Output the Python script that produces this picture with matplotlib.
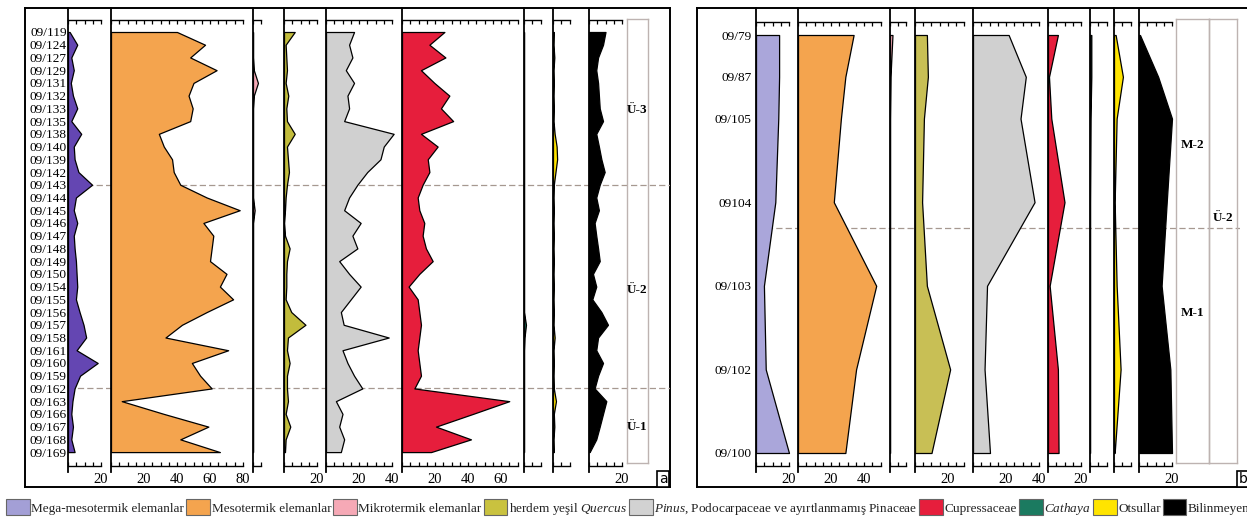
import numpy as np
import matplotlib
matplotlib.use("Agg")
import matplotlib.pyplot as plt
from matplotlib.patches import Patch

plt.rcParams['font.family'] = ['Liberation Serif', 'DejaVu Serif']
plt.rcParams['mathtext.fontset'] = 'custom'
plt.rcParams['mathtext.rm'] = 'Liberation Serif'
plt.rcParams['mathtext.it'] = 'Liberation Serif:italic'

# ---------------- Panel a data ----------------
samples_a = ["09/119", "09/124", "09/127", "09/129", "09/131", "09/132", "09/133", "09/135",
             "09/138", "09/140", "09/139", "09/142", "09/143", "09/144", "09/145", "09/146",
             "09/147", "09/148", "09/149", "09/150", "09/154", "09/155", "09/156", "09/157",
             "09/158", "09/161", "09/160", "09/159", "09/162", "09/163", "09/166", "09/167",
             "09/168", "09/169"]
mega_a = [1, 5.6, 2, 3.5, 1.7, 3, 5.6, 2, 8, 3.5, 4, 6.3, 14.6, 4.8, 3.5, 5.6, 3.5,
          4, 4.8, 5.2, 5.6, 4.8, 7, 9.4, 11, 5.2, 18, 7.3, 4, 2.7, 2, 3, 2, 4]
meso_a = [40, 57, 48, 64, 50, 47, 49.5, 48, 29, 32, 37, 38, 42, 58, 78, 56, 62,
          61, 60, 70, 66, 74, 58, 43, 33, 71, 49, 54, 61, 6.5, 32, 59, 42, 66]
mikro_a = [0, 0, 0, 0.5, 3, 0.5, 0, 0, 0, 0, 0, 0, 0, 0, 1, 0, 0,
           0, 0, 0, 0, 0, 0, 0, 0, 0, 0, 0, 0, 0, 0, 0, 0, 0]
quercus_a = [6.5, 1, 1.4, 1.8, 1, 2.6, 1.4, 1.8, 6.5, 1.8, 2.4, 3, 1.8, 1, 0.6, 0, 0.6,
             3.4, 1.8, 1.4, 1.4, 1, 4.4, 13, 2.4, 1.8, 3.4, 1.8, 1.8, 2.4, 1, 3.8, 1, 0.6]
pinus_a = [17, 14, 16, 12, 17, 13, 14, 11, 41, 35, 33, 25, 19, 14, 11, 21, 16,
           19, 8, 14, 21, 15, 9, 10.7, 38, 10, 13, 17, 22, 6, 10, 8, 11, 9]
cupress_a = [25.7, 16.6, 26.3, 11.5, 19.6, 28.7, 23.6, 31, 11.5, 21.6, 15.6, 16.6, 12.5, 9.5, 10.5, 13.5, 12.5,
             14.5, 18.6, 10.5, 4, 9.5, 10.5, 11.5, 10.5, 9.5, 10.5, 11.5, 7.5, 65, 43, 20.6, 41.8, 17.6]
cathaya_a = [0, 0, 0, 0, 0, 0, 0, 0, 0, 0, 0, 0, 0, 0, 0, 0, 0,
             0, 0, 0, 0, 0, 0, 1.2, 0.3, 0, 0, 0, 0, 0, 0, 0, 0, 0]
otsullar_a = [0.5, 0.3, 0.8, 0.3, 0.5, 0.3, 0.5, 0.3, 1.0, 2.2, 2.5, 1.5, 0.5, 0.3, 0.5, 0.3, 0.5,
              0.3, 0.5, 0.3, 0.5, 0.3, 0.5, 0.3, 1.0, 0.3, 0.5, 0.3, 0.5, 1.8, 0.5, 0.8, 0.3, 0.5]
bilin_a = [10, 8.5, 5.5, 4.4, 5.5, 6, 6.5, 8.5, 4.4, 6, 7.5, 9.5, 6.5, 4.4, 6, 3.4, 4.4,
           5.5, 6.5, 2.4, 4.4, 2, 7.5, 11.5, 5.5, 4.4, 8.5, 5.5, 3.4, 10.5, 8.5, 6.5, 4.4, 0.4]
zone_bounds_a = [12, 28]
zone_names_a = ["Ü-3", "Ü-2", "Ü-1"]
zone_label_pos_a = [6.1, 20.3, 31.0]

# ---------------- Panel b data ----------------
samples_b = ["09/79", "09/87", "09/105", "09104", "09/103", "09/102", "09/100"]
depth_b = [0, 1, 2, 4, 6, 8, 10]
mega_b = [14, 14, 13.5, 11.7, 4.8, 5.9, 20]
meso_b = [33.7, 28.7, 26, 21.7, 47.4, 35.2, 28.7]
mikro_b = [1.5, 0.3, 0, 0, 0, 0, 0]
quercus_b = [7.2, 7.8, 5.4, 4.3, 7.2, 21.3, 10]
pinus_b = [21.6, 32, 28.8, 37.3, 8.5, 7, 10.3]
cupress_b = [6, 0.6, 2, 10, 1, 6, 6.4]
cathaya_b = [0.8, 0.8, 0.3, 0, 0, 0, 0]
otsullar_b = [1, 5.4, 1.6, 0.4, 1.6, 4, 0.4]
bilin_b = [0.6, 11.6, 20, 16.8, 13.7, 19, 20]
zone_bounds_b = [4.62]
zone_names_b1 = ["M-2", "M-1"]
zone_label_pos_b1 = [2.63, 6.65]
zone_names_b2 = ["Ü-2"]
zone_label_pos_b2 = [4.38]

# ---------------- legend ----------------
legend_labels = ["Mega-mesotermik elemanlar", "Mesotermik elemanlar", "Mikrotermik elemanlar",
                 r"herdem yeşil $\it{Quercus}$",
                 r"$\it{Pinus}$, Podocarpaceae ve ayırtlanmamış Pinaceae",
                 "Cupressaceae", r"$\it{Cathaya}$", "Otsullar", "Bilinmeyen"]
legend_colors = ["#a39fd6", "#f4a44e", "#f6a9b6", "#c9c23f", "#d2d2d2",
                 "#e61e3c", "#1b7a60", "#ffe400", "#000000"]

colors_a = ["#6446b2", "#f4a44e", "#f6a9b6", "#c2bc3c", "#d0d0d0",
            "#e61e3c", "#1b7a60", "#ffe400", "#000000"]
colors_b = ["#aaa6da", "#f4a44e", "#f6a9b6", "#c8bf55", "#d0d0d0",
            "#e61e3c", "#1b7a60", "#ffe400", "#000000"]

# ---------------- layout ----------------
W, H = 1247, 517
fig = plt.figure(figsize=(W / 100, H / 100), dpi=100)


def add_px(x0, x1, y0, y1, **kw):
    return fig.add_axes([x0 / W, 1 - y1 / H, (x1 - x0) / W, (y1 - y0) / H], **kw)


PX_PER_PCT = 1.65
COL_TOP, COL_BOT = 8, 472
TICK_BOT = 466


def ya(p):
    return (p - 32) / 12.73


def yb(p):
    return (p - 35) / 41.8


def draw_panel(lefts, right_end, axmax, labs, series, colors, ypos, yfun, ticktop,
               sample_labels, label_pad, label_size):
    edges = lefts + [right_end]
    axes = []
    for k in range(len(series)):
        x0, x1 = edges[k], edges[k + 1]
        ax = add_px(x0, x1, COL_TOP, COL_BOT)
        ax.set_facecolor('none')
        ax.set_xlim(0, (x1 - x0) / PX_PER_PCT)
        ax.set_ylim(yfun(COL_BOT), yfun(COL_TOP))
        ax.fill_betweenx(ypos, 0, series[k], facecolor=colors[k], edgecolor='black',
                         linewidth=0.9, zorder=3)
        ax.spines['right'].set_visible(False)
        ax.spines['left'].set_linewidth(1.3)
        for side, p in (('top', ticktop), ('bottom', TICK_BOT)):
            ax.spines[side].set_position(('data', yfun(p)))
            ax.spines[side].set_bounds(0, axmax[k])
            ax.spines[side].set_linewidth(1.0)
        t = np.arange(0, axmax[k] + 0.01, 5)
        ax.set_xticks(t)
        ax.set_xticklabels([f"{int(v)}" if int(v) in labs[k] else "" for v in t])
        ax.tick_params(axis='x', which='both', direction='in', length=3, width=0.9,
                       top=True, bottom=True, labelbottom=True, labeltop=False,
                       labelsize=10.5, pad=5)
        ax.set_yticks([])
        axes.append(ax)
    axes[0].set_yticks(ypos)
    axes[0].set_yticklabels(sample_labels)
    axes[0].tick_params(axis='y', length=0, pad=label_pad, labelsize=label_size)
    return axes


def frame(x0, x1, y0, y1):
    ax = add_px(x0, x1, y0, y1, zorder=-2)
    ax.set_facecolor('none')
    ax.set_xticks([])
    ax.set_yticks([])
    for s in ax.spines.values():
        s.set_linewidth(1.4)
    return ax


def overlay(x0, x1, yfun, bounds):
    ax = add_px(x0, x1, COL_TOP, COL_BOT, zorder=-1)
    ax.set_ylim(yfun(COL_BOT), yfun(COL_TOP))
    ax.set_xlim(0, 1)
    ax.axis('off')
    for b in bounds:
        ax.axhline(b, color='#a69890', lw=0.9, ls=(0, (5, 2.5)))
    return ax


def zone_box(x0, x1, yfun, names, pos):
    ax = add_px(x0, x1, 19, 463)
    ax.set_facecolor('none')
    ax.set_ylim(yfun(463), yfun(19))
    ax.set_xticks([])
    ax.set_yticks([])
    for s in ax.spines.values():
        s.set_color('#bdb3b1')
        s.set_linewidth(1.0)
    for n, p in zip(names, pos):
        ax.text(0.5, p, n, transform=ax.get_yaxis_transform(), ha='center', va='center',
                fontsize=9.5, fontweight='bold')
    return ax


# frames
frame(25, 670, 8, 487)
frame(697, 1275, 8, 487)

# overlays (zone boundary dashed lines)
overlay(68, 670, ya, zone_bounds_a)
overlay(757, 1240, yb, zone_bounds_b)

# panel a
series_a = [mega_a, meso_a, mikro_a, quercus_a, pinus_a, cupress_a, cathaya_a, otsullar_a, bilin_a]
lefts_a = [68, 111, 253, 284, 326, 402, 524, 553, 589]
axmax_a = [20, 80, 5, 20, 40, 70, 10, 10, 20]
labs_a = [{20}, {20, 40, 60, 80}, set(), {20}, {20, 40}, {20, 40, 60}, set(), set(), {20}]
draw_panel(lefts_a, 627, axmax_a, labs_a, series_a, colors_a,
           list(range(len(samples_a))), ya, 20, samples_a, 0.8, 9.6)
zone_box(627, 648, ya, zone_names_a, zone_label_pos_a)

# panel b
series_b = [mega_b, meso_b, mikro_b, quercus_b, pinus_b, cupress_b, cathaya_b, otsullar_b, bilin_b]
lefts_b = [756, 798, 890, 915, 973, 1048, 1090, 1114, 1139]
axmax_b = [20, 50, 10, 30, 40, 20, 10, 10, 20]
labs_b = [{20}, {20, 40}, set(), {20}, {20, 40}, {20}, set(), set(), {20}]
draw_panel(lefts_b, 1176, axmax_b, labs_b, series_b, colors_b,
           depth_b, yb, 22, samples_b, 3.0, 9.6)
zone_box(1176, 1209, yb, zone_names_b1, zone_label_pos_b1)
zone_box(1209, 1237, yb, zone_names_b2, zone_label_pos_b2)

# panel letters
for x, s in ((663, 'a'), (1243, 'b')):
    fig.text(x / W, 1 - 479 / H, s, ha='center', va='center', fontsize=10,
             family='DejaVu Sans',
             bbox=dict(boxstyle='square,pad=0.1', fc='white', ec='black', lw=1.2))

# legend
handles = [Patch(facecolor=c, edgecolor='#666666', linewidth=0.8) for c in legend_colors]
fig.legend(handles, legend_labels, loc='center left', bbox_to_anchor=(6 / W, 1 - 508 / H),
           ncol=9, frameon=False, handlelength=1.8, handleheight=1.5, handletextpad=0.12,
           columnspacing=0.15, borderpad=0, borderaxespad=0, fontsize=9.5,
           labelcolor='#222222')

fig.savefig("out.png", dpi=100)
